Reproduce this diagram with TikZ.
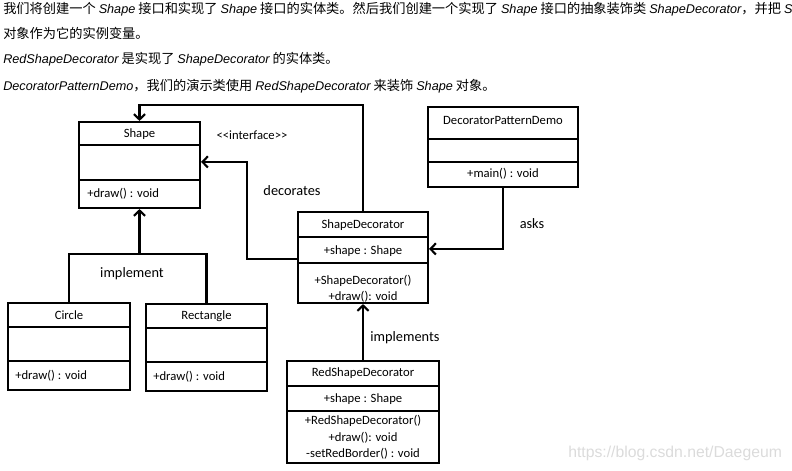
\documentclass[tikz,border=0pt]{standalone}
\usepackage{fontspec}
\setmainfont{Carlito}
\newfontfamily\cjk{Noto Sans CJK SC}
\newfontfamily\lat{Liberation Sans}
\newcommand{\en}[1]{{\lat\itshape\fontsize{9}{11}\selectfont #1}}
\usetikzlibrary{positioning,arrows.meta,calc}
\tikzstyle{umlbox} = [draw=black,line width=1.5pt,inner sep=0pt]
\tikzstyle{link} = [line width=1.5pt,-{Straight Barb[length=3.8pt,width=8pt,line width=1.5pt]}]
\tikzstyle{wire} = [line width=1.5pt]
\tikzstyle{txt} = [inner sep=0pt,font=\fontsize{9}{11.6}\selectfont,align=center]
\tikzstyle{lbl} = [inner sep=0pt,font=\fontsize{10.2}{12}\selectfont]
\tikzstyle{intro} = [inner sep=0pt,anchor=west,font=\cjk\fontsize{9.4}{11}\selectfont]

\begin{document}
\begin{tikzpicture}[x=0.025cm,y=-0.025cm]
\useasboundingbox (0,0) rectangle (792,471);

% intro text
\node[intro] (l1) at (3,9) {我们将创建一个 \en{Shape} 接口和实现了 \en{Shape} 接口的实体类。然后我们创建一个实现了 \en{Shape} 接口的抽象装饰类 \en{ShapeDecorator}，并把 \en{S}};
\node[intro] (l2) at (3,33) {对象作为它的实例变量。};
\node[intro] (l3) at (3,59) {\en{RedShapeDecorator} 是实现了 \en{ShapeDecorator} 的实体类。};
\node[intro] (l4) at (3,86) {\en{DecoratorPatternDemo}，我们的演示类使用 \en{RedShapeDecorator} 来装饰 \en{Shape} 对象。};

% boxes
\node[umlbox,minimum width=3.025cm,minimum height=2.15cm] (shape) at (139.5,165) {};
\node[umlbox,minimum width=3.75cm,minimum height=2cm] (demo) at (503,147) {};
\node[umlbox,minimum width=3.25cm,minimum height=2.275cm] (deco) at (363,257.5) {};
\node[umlbox,minimum width=3.05cm,minimum height=2.175cm] (circle) at (69,346.5) {};
\node[umlbox,minimum width=3.025cm,minimum height=2.175cm] (rect) at (206.5,347.5) {};
\node[umlbox,minimum width=3.8cm,minimum height=2.55cm] (red) at (363,412) {};

\draw[wire] (79,145) -- (200,145);
\draw[wire] (79,180) -- (200,180);
\draw[wire] (428,139) -- (578,139);
\draw[wire] (428,162) -- (578,162);
\draw[wire] (298,237) -- (428,237);
\draw[wire] (298,263) -- (428,263);
\draw[wire] (8,327) -- (130,327);
\draw[wire] (8,361) -- (130,361);
\draw[wire] (146,328) -- (267,328);
\draw[wire] (146,362) -- (267,362);
\draw[wire] (287,386) -- (439,386);
\draw[wire] (287,411) -- (439,411);

% box texts
\node[txt] (shape-name) at (139.5,134) {Shape};
\node[txt,anchor=west] (shape-op) at (87,194) {+draw() : void};
\node[txt] (demo-name) at (503,120) {DecoratorPatternDemo};
\node[txt] (demo-op) at (503,174) {+main()  : void};
\node[txt] (deco-name) at (363,225) {ShapeDecorator};
\node[txt] (deco-attr) at (363,251) {+shape  : Shape};
\node[txt] (deco-op) at (363,289) {+ShapeDecorator()\\+draw():  void};
\node[txt] (circle-name) at (69,315) {Circle};
\node[txt,anchor=west] (circle-op) at (15,376) {+draw() : void};
\node[txt] (rect-name) at (206.5,316) {Rectangle};
\node[txt,anchor=west] (rect-op) at (153,377) {+draw() : void};
\node[txt] (red-name) at (363,373) {RedShapeDecorator};
\node[txt] (red-attr) at (363,399) {+shape  : Shape};
\node[txt] (red-op) at (363,437.5) {+RedShapeDecorator()\\+draw():  void\\-setRedBorder()  : void};

% connectors
\draw[link] (deco.north) -- ++(0,-106) -| (shape.north);
\draw[link] ($(deco.north west)+(0,48)$) -- ++(-50,0) |- ($(shape.north east)+(0,41)$);
\draw[link] (demo.south) |- ($(deco.north east)+(0,38)$);
\draw[link] (red.north) -- (deco.south);
\coordinate (junc) at ($(circle.north)+(0,-48)$);
\draw[wire] (circle.north) -- (junc) -| (rect.north);
\draw[link] (shape.south |- junc) -- (shape.south);

% labels
\node[txt] (iface) at (252,135) {{<}{<}interface{>}{>}};
\node[lbl] (decorates) at (292,191) {decorates};
\node[lbl] (implement) at (132,274) {implement};
\node[lbl] (asks) at (532,224) {asks};
\node[lbl] (implements) at (405,338) {implements};

\node[inner sep=0pt,anchor=west,text=black!14,font=\lat\fontsize{11.2}{13}\selectfont] (mark) at (568,453) {https://blog.csdn.net/Daegeum};
\end{tikzpicture}
\end{document}
